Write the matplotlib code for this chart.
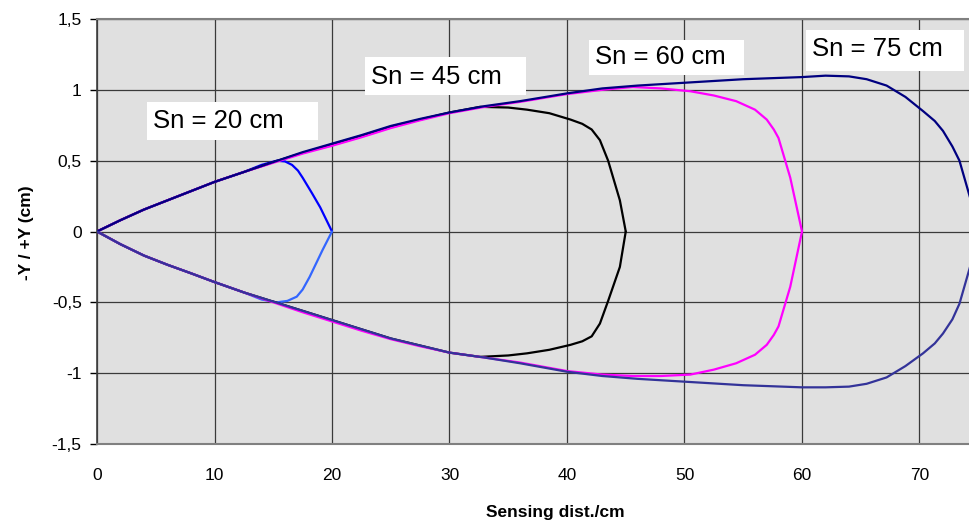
import matplotlib
matplotlib.use("Agg")
import matplotlib.pyplot as plt
from matplotlib.patches import Rectangle

plt.rcParams['font.family'] = ['Liberation Sans', 'DejaVu Sans']

# valori (x = distanza in cm, y = -Y/+Y in cm)
# Sn = 20 cm
x20_up = [0, 2, 4, 6, 8, 10, 12.5, 14, 15.3, 16, 16.6, 17.1, 17.5, 18.3, 19, 20]
y20_up = [0, 0.08, 0.155, 0.22, 0.285, 0.35, 0.42, 0.47, 0.50, 0.495, 0.47, 0.43, 0.38, 0.27, 0.17, 0]
x20_lo = [0, 2, 4, 6, 8, 10, 12.5, 14, 15.3, 16.2, 17, 17.5, 18.1, 19.2, 20]
y20_lo = [0, -0.09, -0.17, -0.235, -0.295, -0.357, -0.43, -0.48, -0.50, -0.49, -0.46, -0.41, -0.32, -0.13, 0]

# Sn = 45 cm
x45_up = [0, 2, 4, 6, 8, 10, 12.5, 15, 17.5, 20, 22.5, 25, 27.5, 30, 32.6, 35, 36.6, 38.5, 40.3, 41.3, 42.1, 42.8, 43.5, 44.5, 45]
y45_up = [0, 0.08, 0.155, 0.22, 0.285, 0.35, 0.42, 0.49, 0.555, 0.615, 0.675, 0.74, 0.79, 0.84, 0.88, 0.875, 0.86, 0.835, 0.79, 0.76, 0.72, 0.645, 0.50, 0.22, 0]
x45_lo = [0, 2, 4, 6, 8, 10, 12.5, 15, 17.5, 20, 22.5, 25, 27.5, 30, 32.6, 35, 36.6, 38.5, 40.3, 41.3, 42.1, 42.8, 43.5, 44.5, 45]
y45_lo = [0, -0.09, -0.17, -0.235, -0.295, -0.357, -0.43, -0.495, -0.56, -0.625, -0.69, -0.755, -0.805, -0.855, -0.885, -0.875, -0.86, -0.835, -0.80, -0.775, -0.74, -0.65, -0.49, -0.25, 0]

# Sn = 60 cm
x60_up = [0, 2, 4, 6, 8, 10, 12.5, 15, 17.5, 20, 22.5, 25, 27.5, 30, 33, 36, 40, 43, 45.6, 48, 50.5, 52.5, 54.4, 56, 57, 57.6, 58, 59, 60]
y60_up = [0, 0.08, 0.155, 0.22, 0.285, 0.35, 0.42, 0.485, 0.55, 0.605, 0.665, 0.73, 0.785, 0.835, 0.88, 0.915, 0.97, 1.0, 1.02, 1.01, 0.99, 0.96, 0.92, 0.86, 0.79, 0.72, 0.66, 0.38, 0]
x60_lo = [0, 2, 4, 6, 8, 10, 12.5, 15, 17.5, 20, 22.5, 25, 27.5, 30, 33, 36, 40, 43, 45.6, 48, 50.5, 52.5, 54.4, 56, 57, 57.6, 58, 59, 60]
y60_lo = [0, -0.09, -0.17, -0.235, -0.295, -0.357, -0.43, -0.5, -0.57, -0.635, -0.70, -0.76, -0.81, -0.855, -0.89, -0.925, -0.985, -1.01, -1.02, -1.02, -1.01, -0.975, -0.93, -0.87, -0.80, -0.73, -0.67, -0.39, 0]

# Sn = 75 cm
x75_up = [0, 2, 4, 6, 8, 10, 12.5, 15, 17.5, 20, 22.5, 25, 27.5, 30, 33, 36, 40, 43, 46, 50, 55, 60, 62, 64, 65.5, 67.2, 68.8, 70.3, 71.3, 72, 72.8, 73.4, 74.3, 75]
y75_up = [0, 0.08, 0.155, 0.22, 0.285, 0.35, 0.42, 0.49, 0.56, 0.62, 0.68, 0.745, 0.795, 0.84, 0.885, 0.92, 0.975, 1.01, 1.03, 1.05, 1.075, 1.09, 1.10, 1.095, 1.075, 1.03, 0.95, 0.85, 0.78, 0.71, 0.60, 0.50, 0.24, 0]
x75_lo = [0, 2, 4, 6, 8, 10, 12.5, 15, 17.5, 20, 22.5, 25, 27.5, 30, 33, 36, 40, 43, 46, 50, 55, 60, 62, 64, 65.5, 67.2, 68.8, 70.3, 71.3, 72, 72.8, 73.4, 74.3, 75]
y75_lo = [0, -0.09, -0.17, -0.235, -0.295, -0.357, -0.43, -0.495, -0.56, -0.625, -0.69, -0.755, -0.805, -0.855, -0.89, -0.93, -0.99, -1.02, -1.04, -1.06, -1.085, -1.10, -1.10, -1.095, -1.075, -1.03, -0.95, -0.86, -0.79, -0.72, -0.62, -0.51, -0.25, 0]

xticks = [0, 10, 20, 30, 40, 50, 60, 70]
yticks = [-1.5, -1, -0.5, 0, 0.5, 1, 1.5]
ytick_labels = ['-1,5', '-1', '-0,5', '0', '0,5', '1', '1,5']
etichette = ['Sn = 20 cm', 'Sn = 45 cm', 'Sn = 60 cm', 'Sn = 75 cm']

fig = plt.figure(figsize=(9.7, 5.26), dpi=100)
# asse piu' largo della figura: il grafico originale e' tagliato a destra
ax = fig.add_axes([97/970, 82/526, 940/970, 425/526])
ax.set_facecolor('#e0e0e0')
ax.set_xlim(0, 80)
ax.set_ylim(-1.5, 1.5)

ax.set_xticks(xticks)
ax.set_xticklabels([str(v) for v in xticks], fontsize=12.5)
ax.set_yticks(yticks)
ax.set_yticklabels(ytick_labels, fontsize=12.5)
ax.tick_params(axis='x', length=0, pad=17)
ax.tick_params(axis='y', length=5, width=1, color='black', pad=6, direction='out')
ax.grid(True, color='#3a3a3a', linewidth=0.9)
ax.set_axisbelow(True)
for s in ['top', 'bottom']:
    ax.spines[s].set_color('#808080')
    ax.spines[s].set_linewidth(1.5)
ax.spines['left'].set_color('#404040')
ax.spines['left'].set_linewidth(1.2)
ax.spines['right'].set_visible(False)

lw = 1.6
kw = dict(lw=lw, solid_joinstyle='round', solid_capstyle='round')
ax.plot(x20_up, y20_up, color='#0000ff', zorder=4, **kw)
ax.plot(x20_lo, y20_lo, color='#3366ff', zorder=4, **kw)
ax.plot(x45_up, y45_up, color='black', zorder=4, **kw)
ax.plot(x45_lo, y45_lo, color='black', zorder=4, **kw)
ax.plot(x60_up, y60_up, color='#ff00ff', zorder=4, **kw)
ax.plot(x60_lo, y60_lo, color='#ff00ff', zorder=4, **kw)
ax.plot(x75_up, y75_up, color='#000080', zorder=5, **kw)
ax.plot(x75_lo, y75_lo, color='#333399', zorder=5, **kw)

# box bianchi delle etichette (in pixel -> dati)
def px2d(px, py):
    return (px - 97) / 11.75, (231.5 - py) / 141.7

boxes = [(147, 318, 102, 140), (365, 526, 57, 95), (589, 744, 40, 75), (806, 964, 30, 71)]
testi = [(153, 121), (371, 77), (595, 57), (812, 49)]
for (x0, x1, y0, y1), (tx, ty), lab in zip(boxes, testi, etichette):
    a, b = px2d(x0, y1)
    c, d = px2d(x1, y0)
    ax.add_patch(Rectangle((a, b), c - a, d - b, facecolor='white', edgecolor='none', zorder=3))
    xx, yy = px2d(tx, ty)
    ax.text(xx, yy, lab, fontsize=18.5, ha='left', va='center', zorder=6)

fig.text(555/970, 1 - 513/526, 'Sensing dist./cm', fontsize=12.5, fontweight='bold', ha='center', va='center')
fig.text(27/970, 1 - 233/526, '-Y / +Y (cm)', fontsize=12.5, fontweight='bold', ha='center', va='center', rotation=90)

fig.savefig('out.png', dpi=100)
